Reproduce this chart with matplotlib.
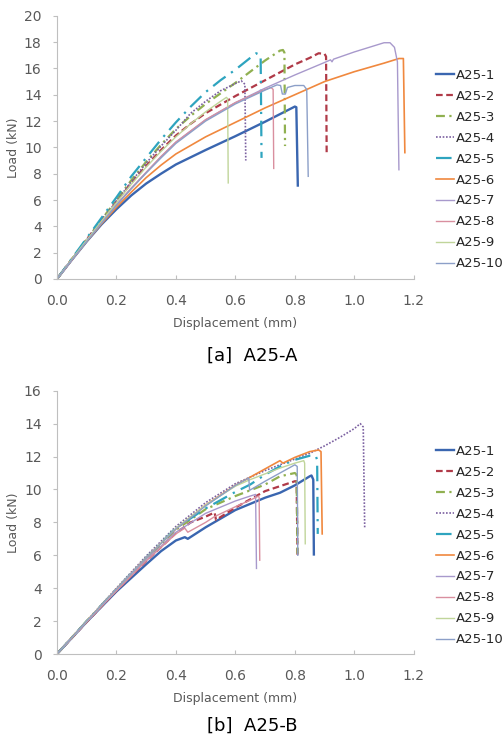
import matplotlib
matplotlib.use('Agg')
import matplotlib.pyplot as plt


labels = ['A25-1', 'A25-2', 'A25-3', 'A25-4', 'A25-5',
          'A25-6', 'A25-7', 'A25-8', 'A25-9', 'A25-10']

# ---- [a] A25-A : displacement (mm) / load (kN) per specimen ----
a1_x = [0, .05, .1, .15, .2, .25, .3, .35, .4, .5, .6, .7, .8, .805, .81]
a1_y = [0, 1.45, 2.85, 4.15, 5.3, 6.35, 7.25, 8.0, 8.7, 9.8, 10.85, 11.95, 13.1, 13.05, 7.1]
a2_x = [0, .05, .1, .15, .2, .25, .3, .35, .4, .45, .5, .6, .7, .8, .85, .88, .9, .905, .907]
a2_y = [0, 1.5, 3.0, 4.5, 5.9, 7.3, 8.6, 9.8, 10.9, 11.8, 12.6, 13.9, 15.1, 16.3, 16.8, 17.15, 17.1, 16.9, 9.5]
a3_x = [0, .05, .1, .15, .2, .25, .3, .35, .4, .45, .5, .6, .7, .75, .76, .765, .767]
a3_y = [0, 1.5, 3.0, 4.5, 6.0, 7.5, 8.9, 10.2, 11.4, 12.4, 13.3, 14.9, 16.6, 17.35, 17.4, 17.2, 10.1]
a4_x = [0, .05, .1, .15, .2, .25, .3, .35, .4, .45, .5, .55, .6, .62, .632, .635]
a4_y = [0, 1.5, 3.0, 4.45, 5.9, 7.4, 8.8, 10.1, 11.3, 12.6, 13.5, 14.3, 14.85, 15.05, 14.8, 9.0]
a5_x = [0, .05, .1, .15, .2, .25, .3, .35, .4, .45, .5, .55, .6, .65, .67, .685, .688]
a5_y = [0, 1.55, 3.1, 4.65, 6.2, 7.8, 9.2, 10.6, 11.9, 13.1, 14.2, 15.1, 15.9, 16.8, 17.15, 17.0, 9.2]
a6_x = [0, .05, .1, .15, .2, .25, .3, .35, .4, .5, .6, .7, .8, .9, 1.0, 1.1, 1.15, 1.165, 1.17]
a6_y = [0, 1.45, 2.85, 4.2, 5.45, 6.6, 7.7, 8.65, 9.5, 10.8, 11.9, 13.0, 14.0, 15.0, 15.75, 16.4, 16.75, 16.75, 9.6]
a7_x = [0, .05, .1, .15, .2, .25, .3, .35, .4, .5, .6, .7, .8, .9, .92, .925, .93,
        1.0, 1.05, 1.1, 1.12, 1.135, 1.145, 1.15]
a7_y = [0, 1.45, 2.9, 4.3, 5.65, 6.9, 8.1, 9.3, 10.4, 12.1, 13.4, 14.5, 15.5, 16.45, 16.65, 16.5, 16.7,
        17.25, 17.6, 17.95, 17.95, 17.6, 16.5, 8.3]
a8_x = [0, .05, .1, .15, .2, .25, .3, .35, .4, .5, .6, .7, .72, .727, .729]
a8_y = [0, 1.45, 2.9, 4.3, 5.6, 6.9, 8.1, 9.3, 10.4, 12.1, 13.4, 14.4, 14.55, 14.4, 8.4]
a9_x = [0, .05, .1, .15, .2, .25, .3, .35, .4, .45, .5, .55, .57, .574, .576]
a9_y = [0, 1.5, 2.95, 4.4, 5.8, 7.2, 8.5, 9.7, 10.8, 11.8, 12.7, 13.5, 13.8, 13.7, 7.3]
a10_x = [0, .05, .1, .15, .2, .25, .3, .35, .4, .5, .6, .7, .74, .752, .758, .768, .775, .8, .83, .84, .845]
a10_y = [0, 1.45, 2.85, 4.25, 5.6, 6.85, 8.05, 9.2, 10.3, 12.0, 13.3, 14.35, 14.75, 14.7, 14.05, 14.05,
         14.55, 14.7, 14.7, 14.4, 7.8]

# ---- [b] A25-B ----
b1_x = [0, .1, .2, .3, .35, .4, .43, .44, .5, .6, .7, .75, .8, .85, .856, .862, .864]
b1_y = [0, 1.95, 3.8, 5.45, 6.25, 6.9, 7.1, 7.0, 7.7, 8.75, 9.5, 9.8, 10.25, 10.8, 10.85, 10.6, 6.05]
b2_x = [0, .1, .2, .3, .4, .45, .5, .53, .535, .6, .7, .8, .806, .809]
b2_y = [0, 1.95, 3.85, 5.65, 7.35, 8.0, 8.35, 8.6, 8.15, 8.9, 9.9, 10.5, 10.5, 5.9]
b3_x = [0, .1, .2, .3, .4, .5, .6, .7, .75, .8, .806, .809]
b3_y = [0, 2.0, 3.9, 5.75, 7.55, 8.8, 9.6, 10.3, 10.8, 11.0, 10.9, 6.1]
b4_x = [0, .1, .2, .3, .4, .5, .6, .65, .7, .75, .8, .85, .9, .95, 1.0, 1.02, 1.03, 1.035]
b4_y = [0, 2.0, 4.0, 5.95, 7.75, 9.2, 10.35, 10.75, 11.15, 11.5, 11.85, 12.2, 12.65, 13.15, 13.7, 14.0, 13.8, 7.6]
b5_x = [0, .1, .2, .3, .4, .5, .55, .6, .65, .7, .76, .8, .85, .87, .875, .877]
b5_y = [0, 2.0, 3.95, 5.85, 7.65, 8.85, 9.35, 9.85, 10.3, 10.9, 11.5, 11.8, 12.05, 12.05, 11.8, 7.3]
b6_x = [0, .1, .2, .3, .4, .5, .6, .65, .7, .75, .76, .8, .85, .88, .888, .892]
b6_y = [0, 2.0, 3.95, 5.85, 7.6, 9.05, 10.25, 10.75, 11.25, 11.75, 11.6, 11.95, 12.3, 12.4, 12.3, 7.3]
b7_x = [0, .1, .2, .3, .4, .5, .6, .65, .668, .671]
b7_y = [0, 1.95, 3.85, 5.7, 7.4, 8.55, 9.3, 9.6, 9.7, 5.2]
b8_x = [0, .1, .2, .3, .4, .43, .44, .5, .53, .6, .65, .678, .68, .682]
b8_y = [0, 1.95, 3.85, 5.65, 7.3, 7.65, 7.4, 8.0, 8.35, 8.95, 9.35, 9.6, 9.5, 5.7]
b9_x = [0, .1, .2, .3, .4, .5, .6, .65, .7, .75, .8, .83, .833, .835]
b9_y = [0, 2.0, 3.95, 5.85, 7.65, 9.05, 10.2, 10.6, 10.95, 11.3, 11.6, 11.75, 11.6, 6.7]
b10_x = [0, .1, .2, .3, .4, .5, .6, .645, .648, .7, .75, .8, .808, .81]
b10_y = [0, 2.0, 3.95, 5.85, 7.6, 9.0, 10.25, 10.7, 9.95, 10.5, 11.0, 11.5, 11.4, 6.0]

# Excel-like series styles
colors = ['#3a66b0', '#b03a48', '#90b050', '#7a5fa0', '#2ea4bf',
          '#f0883e', '#a899cc', '#d98f9f', '#c0d59a', '#8c9fc8']
styles = ['-', (0, (3, 1.6)), (0, (4, 2, 1, 2)), (0, (1, 1)), (0, (7, 3, 1, 3)),
          '-', '-', '-', '-', '-']
widths = [1.7, 1.6, 1.6, 1.2, 1.6, 1.2, 1.0, 1.0, 1.0, 1.0]

TICK_COLOR = '#595959'
SPINE_COLOR = '#bfbfbf'


def draw_panel(ax, series, ymax, caption, caption_y, fig, leg_top):
    for (x, y), lab, c, ls, lw in zip(series, labels, colors, styles, widths):
        ax.plot(x, y, color=c, linestyle=ls, linewidth=lw, label=lab)

    ax.set_xlim(0, 1.2)
    ax.set_ylim(0, ymax)
    ax.set_xticks([0, 0.2, 0.4, 0.6, 0.8, 1.0, 1.2])
    ax.set_xticklabels(['0.0', '0.2', '0.4', '0.6', '0.8', '1.0', '1.2'])
    ax.set_yticks(range(0, ymax + 1, 2))

    for side in ['top', 'right']:
        ax.spines[side].set_visible(False)
    for side in ['left', 'bottom']:
        ax.spines[side].set_color(SPINE_COLOR)
        ax.spines[side].set_linewidth(0.8)

    ax.tick_params(axis='x', direction='in', length=3, color=SPINE_COLOR,
                   labelsize=10, labelcolor=TICK_COLOR, pad=11)
    ax.tick_params(axis='y', direction='out', length=3, color=SPINE_COLOR,
                   labelsize=10, labelcolor=TICK_COLOR, pad=8)

    ax.set_xlabel('Displacement (mm)', fontsize=9, color=TICK_COLOR, labelpad=6)
    ax.set_ylabel('Load (kN)', fontsize=9, color=TICK_COLOR, labelpad=2.5)

    ax.legend(loc='upper left', bbox_to_anchor=(0.865, leg_top),
              bbox_transform=fig.transFigure, frameon=False, fontsize=9.5,
              handlelength=1.4, handletextpad=0.1, labelspacing=0.6,
              borderpad=0, borderaxespad=0, labelcolor='#262626')

    fig.text(0.5, caption_y, caption, ha='center', va='center',
             fontsize=13, color='black')


def main() -> None:
    fig = plt.figure(figsize=(5.04, 7.5), dpi=100)

    ax_a = fig.add_axes([0.113, 0.628, 0.708, 0.351])
    ax_b = fig.add_axes([0.113, 0.128, 0.708, 0.351])

    series_a = [(a1_x, a1_y), (a2_x, a2_y), (a3_x, a3_y), (a4_x, a4_y), (a5_x, a5_y),
                (a6_x, a6_y), (a7_x, a7_y), (a8_x, a8_y), (a9_x, a9_y), (a10_x, a10_y)]
    series_b = [(b1_x, b1_y), (b2_x, b2_y), (b3_x, b3_y), (b4_x, b4_y), (b5_x, b5_y),
                (b6_x, b6_y), (b7_x, b7_y), (b8_x, b8_y), (b9_x, b9_y), (b10_x, b10_y)]

    draw_panel(ax_a, series_a, 20, '[a]  A25-A', 1 - 356 / 750, fig, 1 - 69 / 750)
    draw_panel(ax_b, series_b, 16, '[b]  A25-B', 1 - 726 / 750, fig, 1 - 445 / 750)

    fig.savefig('out.png', dpi=100, facecolor='white')


if __name__ == '__main__':
    main()
